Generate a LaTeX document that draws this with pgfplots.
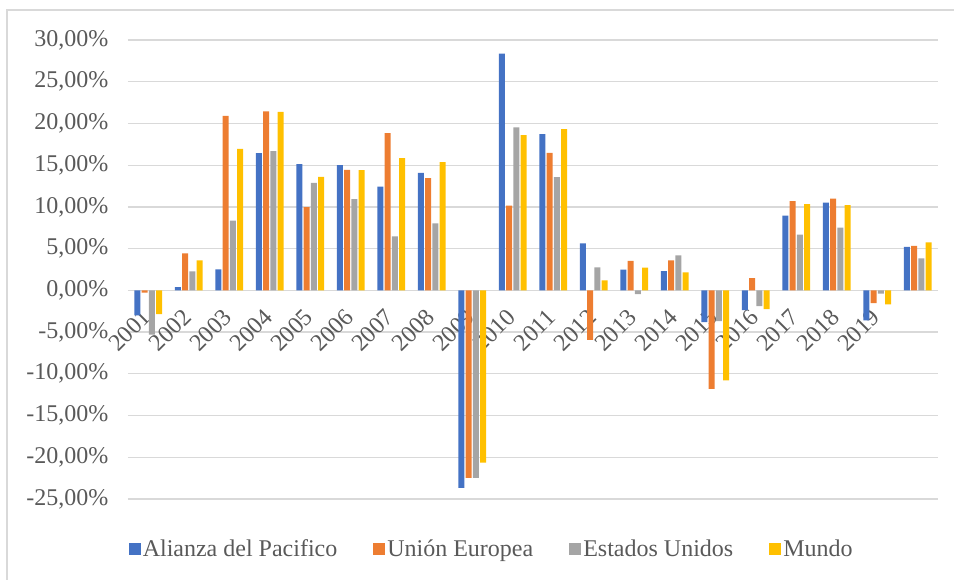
\documentclass[border=0pt]{standalone}
\usepackage{pgfplots}
\pgfplotsset{compat=1.18}
\usepackage{pgfplotstable}
\usepackage{fontspec}
\setmainfont{Liberation Serif}
\definecolor{cAP}{HTML}{4472C4}
\definecolor{cUE}{HTML}{ED7D31}
\definecolor{cEU}{HTML}{A5A5A5}
\definecolor{cMU}{HTML}{FFC000}
\definecolor{txt}{HTML}{595959}
\definecolor{grd}{HTML}{D9D9D9}
\pgfplotstableread{
x AP UE EU MU
0 -3.0 -0.28 -5.3 -2.84
1 0.4 4.44 2.28 3.6
2 2.52 20.9 8.36 16.96
3 16.44 21.44 16.68 21.4
4 15.12 9.96 12.88 13.6
5 15.0 14.44 10.92 14.4
6 12.44 18.84 6.48 15.84
7 14.08 13.44 8.04 15.36
8 -23.68 -22.48 -22.48 -20.64
9 28.36 10.16 19.52 18.6
10 18.72 16.48 13.56 19.32
11 5.64 -5.92 2.76 1.2
12 2.48 3.52 -0.44 2.72
13 2.32 3.6 4.2 2.16
14 -3.8 -11.8 -3.68 -10.8
15 -2.36 1.48 -1.88 -2.24
16 8.96 10.68 6.68 10.32
17 10.52 11.0 7.52 10.2
18 -3.6 -1.52 -0.4 -1.68
19 5.2 5.32 3.84 5.76
}\datatable
\begin{document}
\begin{tikzpicture}[x=1pt,y=1pt]
\path[use as bounding box] (0,0) rectangle (954,579);
\draw[grd, line width=1.2pt] (7,-5) -- (7,569) -- (960,569);
\begin{axis}[
  at={(128pt,80pt)}, anchor=south west,
  scale only axis, width=810pt, height=459pt,
  ybar=1.3pt, bar width=6pt,
  xmin=-0.5, xmax=19.5, ymin=-25, ymax=30,
  axis x line*=middle, axis y line*=left,
  axis line style={draw=none},
  hide obscured x ticks=false, hide obscured y ticks=false,
  major tick length=0pt,
  xtick={0,...,19},
  xticklabels={2001,2002,2003,2004,2005,2006,2007,2008,2009,2010,2011,2012,2013,2014,2015,2016,2017,2018,2019,{}},
  xticklabel shift=21pt,
  xticklabel style={rotate=45, anchor=east, xshift=1pt, font=\fontsize{24}{27}\selectfont, text=txt},
  ytick={-25,-20,-15,-10,-5,0,5,10,15,20,25,30},
  yticklabels={{-25,00\%},{-20,00\%},{-15,00\%},{-10,00\%},{-5,00\%},{0,00\%},{5,00\%},{10,00\%},{15,00\%},{20,00\%},{25,00\%},{30,00\%}},
  yticklabel style={font=\fontsize{24}{27}\selectfont, text=txt, xshift=-16pt},
  ymajorgrids, grid style={grd, line width=1.2pt},
  legend columns=4,
  legend style={draw=none, fill=none, at={(0.449,-0.109)}, anchor=center,
    font=\fontsize{24}{27}\selectfont, text=txt,
    /tikz/every even column/.append style={column sep=34pt}},
  legend image code/.code={\path[#1, draw=none] (-1pt,-6pt) rectangle (11pt,6pt);},
]
\addplot[fill=cAP, draw=none] table[x=x, y=AP] {\datatable};
\addplot[fill=cUE, draw=none] table[x=x, y=UE] {\datatable};
\addplot[fill=cEU, draw=none] table[x=x, y=EU] {\datatable};
\addplot[fill=cMU, draw=none] table[x=x, y=MU] {\datatable};
\legend{Alianza del Pacifico, Unión Europea, Estados Unidos, Mundo}
\end{axis}
\end{tikzpicture}
\end{document}
